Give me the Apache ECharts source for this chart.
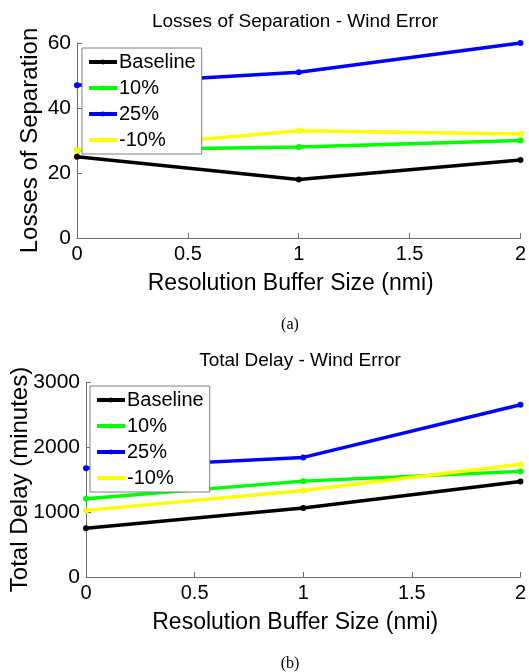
<!DOCTYPE html>
<html><head><meta charset="utf-8">
<script src="https://cdn.jsdelivr.net/npm/echarts@6/dist/echarts.min.js"></script>
<style>html,body{margin:0;padding:0;background:#fff}#c{width:529px;height:672px}</style>
</head><body><div id="c"></div>
<script>
const xValues = [0, 1, 2];
const seriesNames = ['Baseline', '10%', '25%', '-10%'];
const seriesColors = ['#000000', '#00ff00', '#0000ff', '#ffff00'];
// (a) Losses of Separation
const losBaseline = [25, 18, 24];
const los10 = [27, 28, 30];
const los25 = [47, 51, 60];
const losNeg10 = [27, 33, 32];
// (b) Total Delay (minutes)
const delayBaseline = [750, 1060, 1470];
const delay10 = [1205, 1475, 1625];
const delay25 = [1675, 1840, 2650];
const delayNeg10 = [1025, 1330, 1735];

const titleA = 'Losses of Separation - Wind Error';
const titleB = 'Total Delay - Wind Error';
const yNameA = 'Losses of Separation';
const yNameB = 'Total Delay (minutes)';
const xName = 'Resolution Buffer Size (nmi)';

const FONT = 'Liberation Sans, Arial, sans-serif';
const AX = '#6e6e6e';

function pts(arr){ return xValues.map((x,i)=>[x, arr[i]]); }
function mkSeries(arrs, idx){
  return arrs.map((a,i)=>({
    name: seriesNames[i], type:'line', xAxisIndex: idx, yAxisIndex: idx,
    data: pts(a), symbol:'circle', symbolSize:6, showSymbol:true,
    lineStyle:{width:3.5, color: seriesColors[i]},
    itemStyle:{color: seriesColors[i]}, animation:false, z: 2
  }));
}
function xAx(idx){
  return {type:'value', gridIndex: idx, min:0, max:2, interval:0.5,
    name: xName, nameLocation:'middle', nameGap: 34, nameMoveOverlap:false,
    nameTextStyle:{fontFamily:FONT, fontSize:23, color:'#000', padding:[0,16,0,0]},
    axisLine:{show:true, lineStyle:{color:AX, width:1}},
    axisTick:{show:true, inside:true, length:5, lineStyle:{color:AX}},
    axisLabel:{fontFamily:FONT, fontSize:20, color:'#000', margin:6},
    splitLine:{show:false}};
}
function yAx(idx, max, interval, name, gap){
  return {type:'value', gridIndex: idx, min:0, max:max, interval:interval,
    name: name, nameLocation:'middle', nameGap: gap, nameMoveOverlap:false,
    nameTextStyle:{fontFamily:FONT, fontSize:24, color:'#000'},
    axisLine:{show:true, lineStyle:{color:AX, width:1}},
    axisTick:{show:true, inside:true, length:5, lineStyle:{color:AX}},
    axisLabel:{fontFamily:FONT, fontSize:21, color:'#000', margin:6, formatter: v => String(v)},
    splitLine:{show:false}};
}
function legend(idx, left, top){
  return {data: seriesNames.map(n=>({name:n})), orient:'vertical', left:left, top:top,
    itemWidth:28, itemHeight:6, itemGap:6,
    lineStyle:{width:4},
    backgroundColor:'#fff', borderColor:'#808080', borderWidth:1, padding:[4,6,4,5],
    textStyle:{fontFamily:FONT, fontSize:20, color:'#000', padding:[0,0,0,-3]},
    selectedMode:false, z: 5};
}

const chart = echarts.init(document.getElementById('c'), null, {renderer:'canvas'});
chart.setOption({
  animation:false,
  backgroundColor:'#fff',
  title:[
    {text:titleA, left:290, top:7, textAlign:'center', textStyle:{fontFamily:FONT, fontSize:19, fontWeight:'normal', color:'#000'}},
    {text:titleB, left:295, top:346, textAlign:'center', textStyle:{fontFamily:FONT, fontSize:19, fontWeight:'normal', color:'#000'}},
    {text:'(a)', left:285, top:312, textAlign:'center', textStyle:{fontFamily:'Liberation Serif, Times New Roman, serif', fontSize:16, fontWeight:'normal', color:'#000'}},
    {text:'(b)', left:285, top:651, textAlign:'center', textStyle:{fontFamily:'Liberation Serif, Times New Roman, serif', fontSize:16, fontWeight:'normal', color:'#000'}}
  ],
  grid:[
    {left:77, top:43, width:446, height:195},
    {left:86, top:382, width:438, height:195}
  ],
  xAxis:[xAx(0), xAx(1)],
  yAxis:[yAx(0, 60, 20, yNameA, 35), yAx(1, 3000, 1000, yNameB, 54)],
  legend:[legend(0, 82, 48), legend(1, 90, 386)],
  series:[...mkSeries([losBaseline, los10, los25, losNeg10], 0), ...mkSeries([delayBaseline, delay10, delay25, delayNeg10], 1)]
});
</script></body></html>
